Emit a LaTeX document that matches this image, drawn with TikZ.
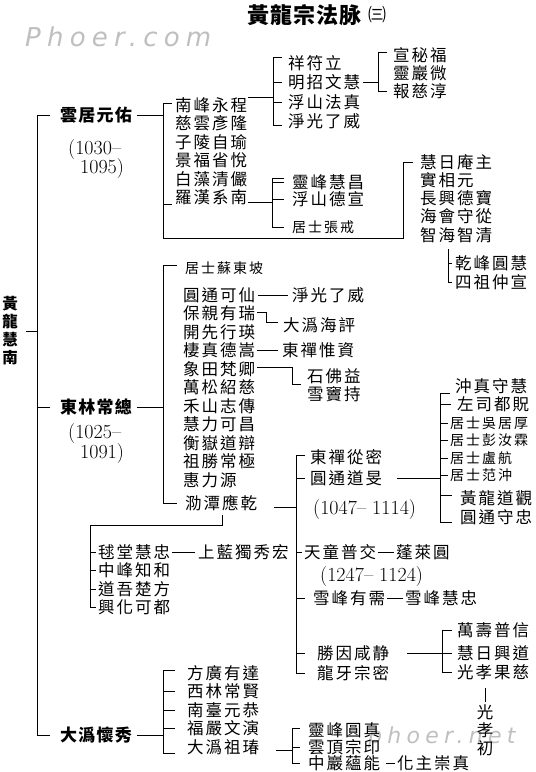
\documentclass[tikz,border=0pt]{standalone}
\usepackage{fontspec}
\newfontfamily\cjk[LetterSpace=12]{Noto Sans CJK TC}
\newfontfamily\cjkh[LetterSpace=7]{Noto Sans CJK TC}
\newfontfamily\cjkt[LetterSpace=5]{Noto Sans CJK TC}
\newfontfamily\cjkk[LetterSpace=14]{Noto Sans CJK TC}
\newfontfamily\wmfont[LetterSpace=24]{DejaVu Sans}
\begin{document}
\begin{tikzpicture}[x=1pt,y=-1pt]
\tikzset{
 nm/.style={inner sep=0pt, anchor=west, text height=14.5pt, text depth=2pt, font=\cjk\fontsize{16.5}{18}\selectfont},
 hd/.style={inner sep=0pt, anchor=west, text height=15pt, text depth=2pt, font=\cjkh\bfseries\fontsize{17}{18}\selectfont},
 ks/.style={inner sep=0pt, anchor=west, text height=12.6pt, text depth=2pt, font=\cjkk\fontsize{14}{16}\selectfont},
 dt/.style={inner sep=0pt, anchor=west, text height=13pt, text depth=0pt, font=\fontsize{20}{21}\selectfont},
 wm/.style={inner sep=0pt, anchor=west, text=gray!50, font=\wmfont\itshape\fontsize{26}{26}\selectfont},
 ln/.style={line width=0.7pt},
}
\useasboundingbox (0,0) rectangle (536,772);
% watermarks (behind)
\node[wm] (wm1) at (25,37) {Phoer.com};
\node[wm, font=\wmfont\itshape\fontsize{22}{22}\selectfont] (wm2) at (368,737) {phoer.net};
% title
\node[inner sep=0pt, anchor=west, text height=19pt, text depth=3pt, font=\cjkt\bfseries\fontsize{22}{24}\selectfont] (title) at (247,15) {黃龍宗法脉};
\node[inner sep=0pt, anchor=west, text height=15pt, text depth=2pt, font=\cjk\fontsize{18}{18}\selectfont] (title3) at (368,15) {㈢};
% root
\node[inner sep=0pt, align=center, font=\cjkh\bfseries\fontsize{15.5}{18}\selectfont] (root) at (10,331) {黃\\龍\\慧\\南};
% heads
\node[hd] (yj) at (60,115) {雲居元佑};
\node[hd] (dl) at (60,407) {東林常總};
\node[hd] (dw) at (60,735) {大潙懷秀};
\node[dt] (d1a) at (68,148) {(1030–};
\node[dt] (d1b) at (80,167) {1095)};
\node[dt] (d2a) at (68,432) {(1025–};
\node[dt] (d2b) at (80,452) {1091)};
% spine
\coordinate (sp0) at (37,0);
\draw[ln] ([xshift=8pt]root.east) -- (root.east -| sp0);
\draw[ln] ([xshift=-10pt]yj.west) -- (yj.west -| sp0) -- (dw.west -| sp0) -- ([xshift=-10pt]dw.west);
\draw[ln] ([xshift=-10pt]dl.west) -- (dl.west -| sp0);
% ---- 雲居元佑 group
\coordinate (sp1) at (163,0);
\node[nm] (y1) at (175,105) {南峰永程};
\node[nm] (y2) at (175,123.5) {慈雲彥隆};
\node[nm] (y3) at (175,142) {子陵自瑜};
\node[nm] (y4) at (175,160.5) {景福省悅};
\node[nm] (y5) at (175,179) {白藻清儼};
\node[nm] (y6) at (175,197.5) {羅漢系南};
\draw[ln] ([xshift=5pt]yj.east) -- (yj.east -| sp1);
\coordinate (c1) at (163,238);
\coordinate (c2) at (403,238);
\node[nm] (r1) at (420,162) {慧日庵主};
\node[nm] (r2) at (420,180) {實相元};
\node[nm] (r3) at (420,198) {長興德寶};
\node[nm] (r4) at (420,216.5) {海會守從};
\node[nm] (r5) at (420,235) {智海智清};
\draw[ln] ([xshift=-3pt,yshift=2pt]y1.west) -- ([yshift=2pt]y1.west -| sp1) -- (c1) -- (c2) -- (r1.west -| c2) -- ([xshift=-7pt]r1.west);
\draw[ln] ([yshift=-7pt]y6.west -| sp1) -- ([xshift=-3pt,yshift=-7pt]y6.west);
% 南峰永程 branch
\coordinate (sp2) at (273,0);
\node[nm] (n1) at (288,63) {祥符立};
\node[nm] (n2) at (288,82) {明招文慧};
\node[nm] (n3) at (288,102) {浮山法真};
\node[nm] (n4) at (288,121) {淨光了威};
\draw[ln] ([xshift=1pt,yshift=8pt]y1.east) -- ([yshift=8pt]y1.east -| sp2);
\draw[ln] ([xshift=-6pt,yshift=6pt]n1.west) -- ([yshift=6pt]n1.west -| sp2) -- ([yshift=-4pt]n4.west -| sp2) -- ([xshift=-6pt,yshift=-4pt]n4.west);
\draw[ln] (n2.west -| sp2) -- ([xshift=-6pt]n2.west);
\draw[ln] (n3.west -| sp2) -- ([xshift=-6pt]n3.west);
% 明招文慧 branch
\coordinate (sp3) at (378,0);
\node[nm] (m1) at (393,55) {宣秘福};
\node[nm] (m2) at (393,73) {靈巖微};
\node[nm] (m3) at (393,91) {報慈淳};
\draw[ln] ([xshift=3pt]n2.east) -- (n2.east -| sp3);
\draw[ln] ([xshift=-6pt,yshift=3pt]m1.west) -- ([yshift=3pt]m1.west -| sp3) -- (m3.west -| sp3) -- ([xshift=-6pt]m3.west);
% 羅漢系南 branch
\coordinate (sp4) at (272,0);
\node[nm] (p1) at (292,182) {靈峰慧昌};
\node[nm] (p2) at (292,199.5) {浮山德宣};
\node[ks] (p3) at (292,227) {居士張戒};
\draw[ln] ([xshift=1pt,yshift=-5pt]y6.east) -- ([yshift=-5pt]y6.east -| sp4);
\draw[ln] ([xshift=-8pt,yshift=4pt]p1.west) -- ([yshift=4pt]p1.west -| sp4) -- (p3.west -| sp4) -- ([xshift=-8pt]p3.west);
\draw[ln] (p1.west -| sp4) -- ([xshift=-8pt]p1.west);
\draw[ln] (p2.west -| sp4) -- ([xshift=-8pt]p2.west);
% 智海智清 branch
\coordinate (sp5) at (448,0);
\node[nm] (q1) at (455,263) {乾峰圓慧};
\node[nm] (q2) at (455,282) {四祖仲宣};
\draw[ln] ([yshift=-6pt]r5.south -| sp5) -- (q2.west -| sp5) -- ([xshift=-3pt]q2.west);
\draw[ln] (q1.west -| sp5) -- ([xshift=-3pt]q1.west);
% ---- 東林常總 group
\node[ks] (e0) at (185,268) {居士蘇東坡};
\node[nm] (e1) at (183,295) {圓通可仙};
\node[nm] (e2) at (183,313.5) {保親有瑞};
\node[nm] (e3) at (183,332) {開先行瑛};
\node[nm] (e4) at (183,350.5) {棲真德嵩};
\node[nm] (e5) at (183,369) {象田梵卿};
\node[nm] (e6) at (183,387.5) {萬松紹慈};
\node[nm] (e7) at (183,406) {禾山志傳};
\node[nm] (e8) at (183,424.5) {慧力可昌};
\node[nm] (e9) at (183,443) {衡嶽道辯};
\node[nm] (e10) at (183,461.5) {祖勝常極};
\node[nm] (e11) at (183,480) {惠力源};
\node[nm] (e12) at (185,503) {泐潭應乾};
\draw[ln] ([xshift=5pt]dl.east) -- (dl.east -| sp1);
\draw[ln] ([xshift=-8pt,yshift=3pt]e0.west) -- ([yshift=3pt]e0.west -| sp1) -- (e12.west -| sp1) -- ([xshift=-8pt]e12.west);
\node[nm] (f1) at (292,295) {淨光了威};
\node[nm] (f2) at (283,325) {大潙海評};
\node[nm] (f3) at (282,350.5) {東禪惟資};
\node[nm] (g1) at (307,376) {石佛益};
\node[nm] (g2) at (307,394) {雪竇持};
\draw[ln] ([xshift=3pt]e1.east) -- ([xshift=-4pt]f1.west);
\draw[ln] ([xshift=2pt,yshift=1pt]e2.east) -- ++(9,0) |- ([xshift=-5pt,yshift=3pt]f2.west);
\draw[ln] ([xshift=2pt]e4.east) -- ([xshift=-4pt]f3.west);
\coordinate (sp6) at (292,0);
\draw[ln] ([xshift=2pt,yshift=2pt]e5.east) -- ([yshift=2pt]e5.east -| sp6) -- ([yshift=-8pt]g1.west -| sp6) -- ([xshift=-6pt,yshift=-8pt]g1.west);
% 泐潭應乾 lower-left branch
\coordinate (c3) at (222,525);
\coordinate (sp7) at (90,0);
\node[nm] (h1) at (98,552) {毬堂慧忠};
\node[nm] (h1b) at (198,552) {上藍獨秀宏};
\node[nm] (h2) at (98,570.5) {中峰知和};
\node[nm] (h3) at (98,589) {道吾楚方};
\node[nm] (h4) at (98,607.5) {興化可都};
\draw[ln] ([yshift=-4pt]e12.south -| c3) -- (c3) -- (c3 -| sp7) -- (h4.west -| sp7) -- ([xshift=-2pt]h4.west);
\draw[ln] (h1.west -| sp7) -- ([xshift=-2pt]h1.west);
\draw[ln] (h2.west -| sp7) -- ([xshift=-2pt]h2.west);
\draw[ln] (h3.west -| sp7) -- ([xshift=-2pt]h3.west);
\draw[ln] ([xshift=2pt]h1.east) -- ([xshift=-3pt]h1b.west);
% 泐潭應乾 right branch
\coordinate (sp8) at (296,0);
\node[nm] (k1) at (310,457) {東禪從密};
\node[nm] (k2) at (310,478) {圓通道旻};
\node[dt] (kd1) at (313,508) {(1047– 1114)};
\node[nm] (k3) at (304,552) {天童普交};
\node[nm] (k3b) at (396,552) {蓬萊圓};
\node[dt] (kd2) at (320,575) {(1247– 1124)};
\node[nm] (k4) at (313,598) {雪峰有需};
\node[nm] (k4b) at (405,598) {雪峰慧忠};
\node[nm] (k5) at (317,653) {勝因咸静};
\node[nm] (k6) at (317,673) {龍牙宗密};
\draw[ln] ([xshift=17pt,yshift=-4pt]e12.east) -- ([yshift=-4pt]e12.east -| sp8);
\draw[ln] ([xshift=-5pt,yshift=2pt]k1.west) -- ([yshift=2pt]k1.west -| sp8) -- (k6.west -| sp8) -- ([xshift=-12pt]k6.west);
\draw[ln] (k2.west -| sp8) -- ([xshift=-5pt]k2.west);
\draw[ln] (k3.west -| sp8) -- ([xshift=-2pt]k3.west);
\draw[ln] (k4.west -| sp8) -- ([xshift=-8pt]k4.west);
\draw[ln] (k5.west -| sp8) -- ([xshift=-12pt]k5.west);
\draw[ln] ([xshift=2pt]k3.east) -- ([xshift=-2pt]k3b.west);
\draw[ln] ([xshift=2pt]k4.east) -- ([xshift=-2pt]k4b.west);
% 圓通道旻 branch
\coordinate (sp9) at (440,0);
\node[nm] (l1) at (455,386) {沖真守慧};
\node[nm] (l2) at (457,404) {左司都貺};
\node[ks] (l3) at (450,423) {居士吳居厚};
\node[ks] (l4) at (450,440.5) {居士彭汝霖};
\node[ks] (l5) at (450,458) {居士盧航};
\node[ks] (l6) at (450,475.5) {居士范沖};
\node[nm] (l7) at (460,498) {黃龍道觀};
\node[nm] (l8) at (460,517) {圓通守忠};
\draw[ln] ([xshift=15pt]k2.east) -- (k2.east -| sp9);
\draw[ln] ([xshift=-5pt,yshift=-7pt]l1.west) -- ([yshift=-7pt]l1.west -| sp9) -- ([yshift=-5pt]l8.west -| sp9) -- ([xshift=-8pt,yshift=-5pt]l8.west);
\draw[ln] (l2.west -| sp9) -- ([xshift=-6pt]l2.west);
\draw[ln] (l3.west -| sp9) -- ([xshift=-2pt]l3.west);
\draw[ln] (l4.west -| sp9) -- ([xshift=-2pt]l4.west);
\draw[ln] (l5.west -| sp9) -- ([xshift=-2pt]l5.west);
\draw[ln] (l6.west -| sp9) -- ([xshift=-2pt]l6.west);
\draw[ln] ([yshift=3pt]l7.west -| sp9) -- ([xshift=-8pt,yshift=3pt]l7.west);
% 勝因咸静 branch
\coordinate (sp10) at (442,0);
\node[nm] (o1) at (457,630) {萬壽普信};
\node[nm] (o2) at (457,653) {慧日興道};
\node[nm] (o3) at (457,672) {光孝果慈};
\draw[ln] ([xshift=18pt]k5.east) -- (k5.east -| sp10);
\draw[ln] ([xshift=-5pt]o1.west) -- (o1.west -| sp10) -- (o3.west -| sp10) -- ([xshift=-5pt]o3.west);
\draw[ln] (o2.west -| sp10) -- ([xshift=-5pt]o2.west);
\node[inner sep=0pt, align=center, font=\cjk\fontsize{16.5}{18}\selectfont] (gk) at (485,730) {光\\孝\\初};
\draw[ln] ([yshift=-8pt]o3.south -| gk) -- ([yshift=2pt]gk.north);
% ---- 大潙懷秀 group
\node[nm] (w1) at (187,673) {方廣有達};
\node[nm] (w2) at (187,691.5) {西林常賢};
\node[nm] (w3) at (187,710) {南臺元恭};
\node[nm] (w4) at (187,728.5) {福嚴文演};
\node[nm] (w5) at (187,747) {大潙祖瑃};
\draw[ln] ([xshift=5pt]dw.east) -- (dw.east -| sp1);
\draw[ln] ([xshift=-12pt,yshift=3pt]w1.west) -- ([yshift=3pt]w1.west -| sp1) -- ([yshift=-6pt]w5.west -| sp1) -- ([xshift=-12pt,yshift=-6pt]w5.west);
\draw[ln] (w2.west -| sp1) -- ([xshift=-12pt]w2.west);
\draw[ln] (w3.west -| sp1) -- ([xshift=-12pt]w3.west);
\draw[ln] (w4.west -| sp1) -- ([xshift=-12pt]w4.west);
\coordinate (sp11) at (292,0);
\node[nm] (x1) at (308,730) {靈峰圓真};
\node[nm] (x2) at (308,747) {雲頂宗印};
\node[nm] (x3) at (308,763) {中巖蘊能};
\node[nm] (x3b) at (397,763) {化主崇真};
\draw[ln] ([xshift=17pt,yshift=-3pt]w5.east) -- ([yshift=-3pt]w5.east -| sp11);
\draw[ln] ([xshift=-8pt,yshift=2pt]x1.west) -- ([yshift=2pt]x1.west -| sp11) -- (x3.west -| sp11) -- ([xshift=-8pt]x3.west);
\draw[ln] (x2.west -| sp11) -- ([xshift=-8pt]x2.west);
\draw[ln] ([xshift=6pt]x3.east) -- ([xshift=-2pt]x3b.west);
\end{tikzpicture}
\end{document}
